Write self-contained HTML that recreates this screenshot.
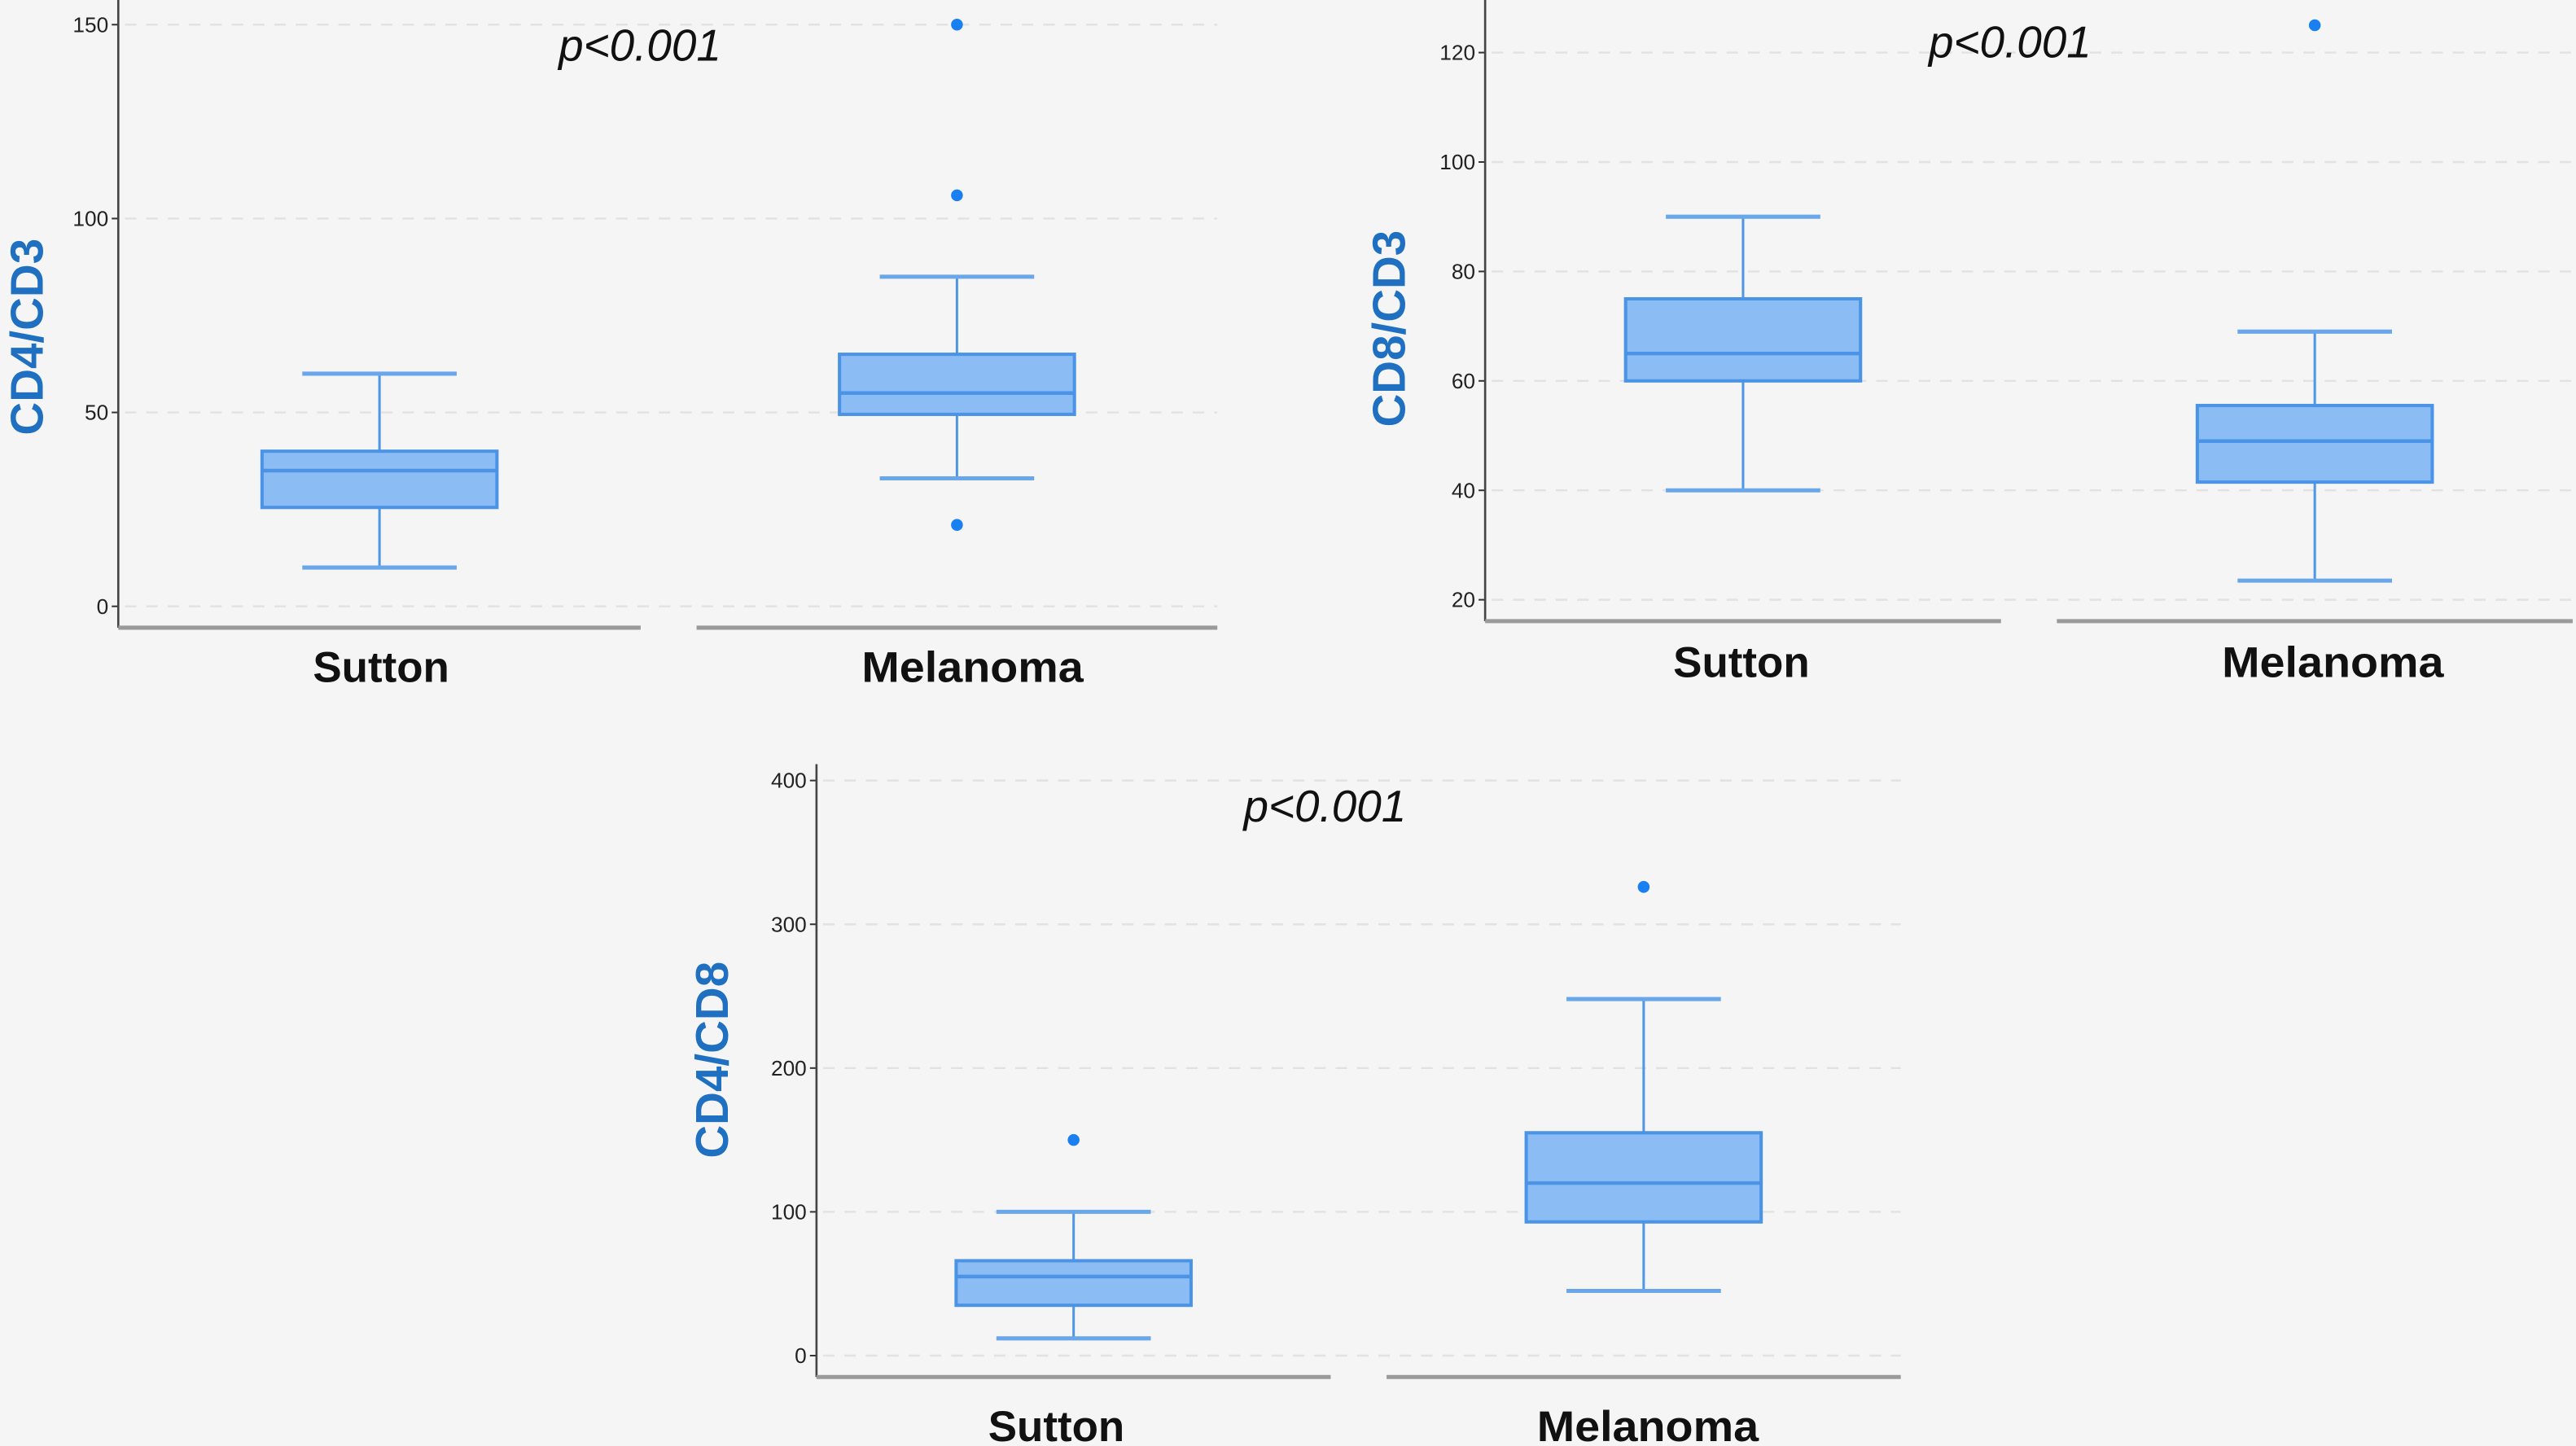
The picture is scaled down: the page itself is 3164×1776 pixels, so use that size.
<!DOCTYPE html>
<html><head><meta charset="utf-8"><style>
html,body{margin:0;padding:0;background:#f5f5f5;}
svg{display:block;}
</style></head><body>
<svg id="fig" width="3164" height="1776" viewBox="0 0 1568 880" preserveAspectRatio="none" xmlns="http://www.w3.org/2000/svg">
<rect x="0" y="0" width="1568" height="880" fill="#f5f5f5"/>
</svg>
<script>
const groups = ["Sutton", "Melanoma"];
const cd4cd3Ticks = [0, 50, 100, 150];
const cd4cd3Stats = [[10, 25.5, 35, 40, 60], [33, 49.5, 55, 65, 85]];
const cd4cd3Outliers = [[], [150, 106, 21]];
const cd8cd3Ticks = [20, 40, 60, 80, 100, 120];
const cd8cd3Stats = [[40, 60, 65, 75, 90], [23.5, 41.5, 49, 55.5, 69]];
const cd8cd3Outliers = [[], [125]];
const cd4cd8Ticks = [0, 100, 200, 300, 400];
const cd4cd8Stats = [[12, 35, 55, 66, 100], [45, 93, 120, 155, 248]];
const cd4cd8Outliers = [[150], [326]];
const titles = ["CD4/CD3", "CD8/CD3", "CD4/CD8"];
const pLabel = "p<0.001";

const NS = "http://www.w3.org/2000/svg";
const svg = document.getElementById("fig");
function mk(tag, attrs, parent, text) {
  const e = document.createElementNS(NS, tag);
  for (const k in attrs) e.setAttribute(k, attrs[k]);
  if (text !== undefined) e.textContent = text;
  (parent || svg).appendChild(e);
  return e;
}

function panel(cfg) {
  const g = mk("g", {});
  
  
  const y = v => cfg.y0 + (v - cfg.v0) * (cfg.y1 - cfg.y0) / (cfg.v1 - cfg.v0);
  cfg.ticks.forEach(t => {
    const gl = mk("line", {x1: cfg.ax + 4, x2: cfg.segs[1][1], y1: y(t), y2: y(t), stroke: "#e2e2e2", "stroke-width": 1.2, "stroke-dasharray": "7,6"}, g);
    
    
    const tk = mk("line", {x1: cfg.ax - 4, x2: cfg.ax, y1: y(t), y2: y(t), stroke: "#333", "stroke-width": 1}, g);
    
    
    const tl = mk("text", {x: cfg.ax - 6, y: y(t) + 4.5, "text-anchor": "end", "font-size": 13, "font-family": "Liberation Sans, sans-serif", fill: "#222"}, g, String(t));
    
    
  });
  const ya = mk("line", {x1: cfg.ax, x2: cfg.ax, y1: cfg.top, y2: cfg.base, stroke: "#444", "stroke-width": 1.3}, g);
  
  
  cfg.segs.forEach(s => {
    const b = mk("line", {x1: s[0], x2: s[1], y1: cfg.base, y2: cfg.base, stroke: "#9a9a9a", "stroke-width": 2.5}, g);
    
    
  });
  groups.forEach((name, i) => {
    const cx = (cfg.segs[i][0] + cfg.segs[i][1]) / 2;
    const st = cfg.stats[i];
    const bw = 71.5, cw = 47;
    const wh = mk("line", {x1: cx, x2: cx, y1: y(st[0]), y2: y(st[4]), stroke: "#4f97e6", "stroke-width": 1.5}, g);
    
    
    [st[0], st[4]].forEach(v => {
      const c = mk("line", {x1: cx - cw, x2: cx + cw, y1: y(v), y2: y(v), stroke: "#6aa6ea", "stroke-width": 2.5}, g);
      
      
    });
    const bx = mk("rect", {x: cx - bw, y: y(st[3]), width: 2 * bw, height: y(st[1]) - y(st[3]), fill: "#8bbcf3", stroke: "#4a93e6", "stroke-width": 2}, g);
    
    
    const md = mk("line", {x1: cx - bw, x2: cx + bw, y1: y(st[2]), y2: y(st[2]), stroke: "#4a93e6", "stroke-width": 2.2}, g);
    
    
    cfg.outliers[i].forEach(v => {
      const o = mk("circle", {cx: cx, cy: y(v), r: 3.6, fill: "#1a7ff0"}, g);
      
      
    });
    const lw = i ? 135 : 83;
    const lb = mk("text", {x: cfg.labX[i], y: cfg.labY, "text-anchor": "middle", "font-size": 26, "font-weight": "bold", "font-family": "Liberation Sans, sans-serif", fill: "#111", textLength: lw, lengthAdjust: "spacingAndGlyphs"}, g, name);
    
    
  });
  const p = mk("text", {x: cfg.px, y: cfg.py, "font-size": 27, "font-style": "italic", "font-family": "Liberation Sans, sans-serif", fill: "#111", textLength: 99, lengthAdjust: "spacingAndGlyphs"}, g, pLabel);
  
  
  const tt = mk("text", {x: cfg.tx, y: cfg.ty, "text-anchor": "middle", "font-size": 28, "font-weight": "bold", "font-family": "Liberation Sans, sans-serif", fill: "#1f70c1", transform: "rotate(-90 " + cfg.tx + " " + cfg.ty + ")"}, g, cfg.title);
  
  
}

panel({name: "cd4-cd3-panel", ax: 72, top: 0, base: 382, segs: [[72, 390], [424, 741]],
  v0: 0, y0: 369, v1: 150, y1: 15, ticks: cd4cd3Ticks, stats: cd4cd3Stats, outliers: cd4cd3Outliers,
  labX: [232, 592], labY: 415, px: 340, py: 37, tx: 26, ty: 205, title: titles[0]});
panel({name: "cd8-cd3-panel", ax: 904, top: 0, base: 378, segs: [[904, 1218], [1252, 1566]],
  v0: 20, y0: 365, v1: 120, y1: 32, ticks: cd8cd3Ticks, stats: cd8cd3Stats, outliers: cd8cd3Outliers,
  labX: [1060, 1420], labY: 412, px: 1174, py: 35, tx: 855, ty: 200, title: titles[1]});
panel({name: "cd4-cd8-panel", ax: 497, top: 465, base: 838, segs: [[497, 810], [844, 1157]],
  v0: 0, y0: 825, v1: 400, y1: 475, ticks: cd4cd8Ticks, stats: cd4cd8Stats, outliers: cd4cd8Outliers,
  labX: [643, 1003], labY: 877, px: 757, py: 500, tx: 443, ty: 645, title: titles[2]});
</script>
</body></html>
